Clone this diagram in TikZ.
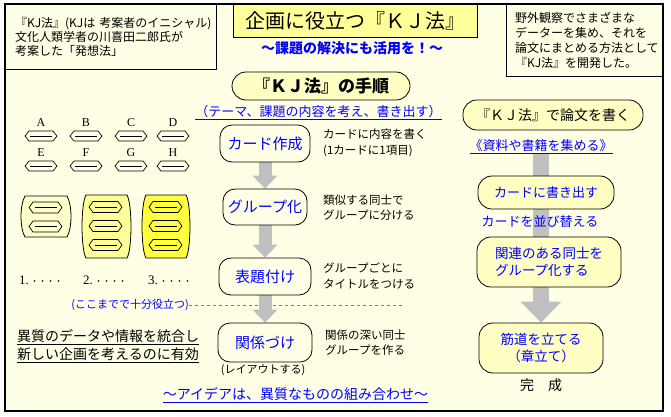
\documentclass[tikz,border=0pt]{standalone}
\usepackage{fontspec}
\setmainfont{Noto Sans CJK JP}
\newfontfamily\cardfont{Liberation Serif}
\usepackage{xcolor}
\usetikzlibrary{arrows.meta}
\definecolor{kjbg}{HTML}{FFFFE6}
\definecolor{kjpill}{HTML}{FFFFC4}
\definecolor{kjtitle}{HTML}{FFFF99}
\definecolor{grpA}{HTML}{FFFFCC}
\definecolor{grpB}{HTML}{FFFF99}
\definecolor{grpC}{HTML}{FFFF40}
\definecolor{kjblue}{HTML}{0000FF}
\definecolor{kjgray}{HTML}{C0C0C0}
\pgfdeclarelayer{frame}
\pgfdeclarelayer{shaft}
\pgfsetlayers{frame,shaft,main}

\begin{document}
\begin{tikzpicture}[x=1pt, y=-1pt,
    infobox/.style={draw, line width=0.8pt, fill=kjbg, align=left, inner ysep=0pt},
    stepbox/.style={draw, line width=0.8pt, rounded corners=12pt, fill=kjbg, text=kjblue,
        font=\fontsize{15}{18}\selectfont, minimum height=37pt, inner sep=0pt},
    pillbox/.style={draw, line width=0.8pt, rounded corners=14pt, fill=kjpill, inner sep=0pt},
    notetext/.style={align=left, anchor=west, inner sep=0pt, font=\fontsize{11.5}{15.5}\selectfont},
    linktext/.style={text=kjblue, inner sep=0pt},
    cardlabel/.style={inner sep=0pt, font=\cardfont\fontsize{12}{14}\selectfont},
    flowarrow/.style={draw=kjgray, line width=13pt, -{Triangle[length=13pt,width=25pt,line width=0pt]}},
    bigarrow/.style={draw=kjgray, line width=16pt, -{Triangle[length=21pt,width=41pt,line width=0pt]}}]

\useasboundingbox (0,0) rectangle (671,416);

% =====================
% Background
% =====================
\begin{pgfonlayer}{frame}
\fill[white] (0,0) rectangle (671,416);
\fill[kjbg] (5,4) rectangle (663,411);
\end{pgfonlayer}

% =====================
% Header boxes
% =====================
\node[infobox, text width=191pt, inner xsep=10pt, minimum height=65pt,
      font=\fontsize{12}{14}\selectfont] (origin) at (110.5,36.5)
    {『KJ法』(KJは~考案者のイニシャル)\\文化人類学者の川喜田二郎氏が\\考案した「発想法」};

\node[infobox, text width=139pt, inner xsep=9pt, minimum height=72pt,
      font=\fontsize{12}{15}\selectfont] (fieldwork) at (584.5,40)
    {野外観察でさまざまな\\データーを集め、それを\\論文にまとめる方法として\\『KJ法』を開発した。};

\node[draw, line width=0.8pt, fill=kjtitle, minimum width=244pt, minimum height=33pt,
      font=\fontsize{20}{24}\selectfont] (title) at (355,20.5) {企画に役立つ『ＫＪ法』};

\node[linktext, font=\bfseries\fontsize{14}{16}\selectfont] (subtitle) at (352,48)
    {～課題の解決にも活用を！～};

% =====================
% Procedure (left)
% =====================
\node[pillbox, minimum width=178pt, minimum height=28pt,
      font=\bfseries\fontsize{17}{20}\selectfont] (procedure) at (321,86) {『ＫＪ法』の手順};

\node[linktext, font=\fontsize{13}{15}\selectfont] (theme) at (318.5,113)
    {\underline{（テーマ、課題の内容を考え、書き出す）}};

\node[stepbox, minimum width=90pt] (cards) at (265,143.5) {カード作成};
\node[stepbox, minimum width=84pt, minimum height=36pt] (grouping) at (265,207) {グループ化};
\node[stepbox, minimum width=92pt] (titling) at (265,276.5) {表題付け};
\node[stepbox, minimum width=94pt, minimum height=39pt] (relating) at (265,342.5) {関係づけ};

\node[notetext] (note1) at (323,143) {カードに内容を書く\\(1カードに1項目)};
\node[notetext] (note2) at (323,207.5) {類似する同士で\\グループに分ける};
\node[notetext] (note3) at (323,276) {グループごとに\\タイトルをつける};
\node[notetext] (note4) at (325,342.5) {関係の深い同士\\グループを作る};

\node[inner sep=0pt, font=\fontsize{11}{13}\selectfont] (layout) at (263,370) {(レイアウトする)};

\node[linktext, font=\fontsize{11}{13}\selectfont] (enough) at (130,305) {(ここまでで十分役立つ)};
\coordinate (enoughend) at (402,305);

\node[notetext, font=\fontsize{14}{18}\selectfont] (integrate) at (17,346)
    {\underline{異質のデータや情報を統合し}\\\underline{新しい企画を考えるのに有効}};

\node[linktext, font=\fontsize{14}{16}\selectfont] (idea) at (295.5,395)
    {\underline{～アイデアは、異質なものの組み合わせ～}};

% =====================
% Cards and groups
% =====================
\foreach \lbl/\cx/\cy in {A/41/136, B/86/136, C/131/136, D/173/136,
                          E/41/166, F/86/166, G/131/166, H/173/166} {
    \node[cardlabel] (card-\lbl) at (\cx,\cy-13) {\lbl};
    \draw[line width=0.7pt] (\cx-16,\cy) -- (\cx-12,\cy-5) -- (\cx+12,\cy-5) -- (\cx+16,\cy)
        -- (\cx+12,\cy+5) -- (\cx-12,\cy+5) -- cycle;
    \draw[line width=0.7pt] (\cx-11,\cy) -- (\cx+11,\cy);
}

\foreach \gl/\gr/\gt/\gb/\gc in {21/71/196/237/grpA, 82/131/195/258/grpB, 142/190/195/258/grpC} {
    \draw[line width=0.8pt, fill=\gc] (\gl+4,\gt) -- (\gr-4,\gt)
        .. controls (\gr+1.3,\gt+9) and (\gr+1.3,\gb-9) .. (\gr-4,\gb)
        -- (\gl+4,\gb)
        .. controls (\gl-1.3,\gb-9) and (\gl-1.3,\gt+9) .. (\gl+4,\gt) -- cycle;
}

\foreach \cx/\cy in {45.5/207.5, 45.5/226.5, 105.5/207, 105.5/226, 105.5/245,
                     165.5/207, 165.5/226, 165.5/245} {
    \draw[line width=0.7pt] (\cx-16.5,\cy) -- (\cx-12.5,\cy-5.5) -- (\cx+12.5,\cy-5.5) -- (\cx+16.5,\cy)
        -- (\cx+12.5,\cy+5.5) -- (\cx-12.5,\cy+5.5) -- cycle;
    \draw[line width=0.7pt] (\cx-11,\cy) -- (\cx+11,\cy);
}

\foreach \n/\gx in {1/19, 2/83, 3/148} {
    \node[anchor=west, inner sep=0pt] (rank-\n) at (\gx,280)
        {{\cardfont\fontsize{13}{15}\selectfont \n.}\,{\fontsize{8}{10}\selectfont ・・・・}};
}

% =====================
% Writing a paper (right)
% =====================
\node[pillbox, minimum width=180pt, minimum height=30pt,
      font=\fontsize{14}{16}\selectfont] (paper) at (553,115) {『ＫＪ法』で論文を書く};

\node[linktext, font=\fontsize{13}{15}\selectfont] (sources) at (541,147)
    {\underline{《資料や書籍を集める》}};

\node[pillbox, text=kjblue, minimum width=136pt, minimum height=33pt,
      font=\fontsize{13}{15}\selectfont] (writeout) at (546,192.5) {カードに書き出す};

\node[linktext, font=\fontsize{13}{15}\selectfont] (sorting) at (540,222) {カードを並び替える};

\node[pillbox, text=kjblue, align=left, minimum width=144pt, minimum height=50pt,
      font=\fontsize{13.5}{17}\selectfont] (relate) at (549,262) {関連のある同士を\\グループ化する};

\node[pillbox, text=kjblue, align=center, minimum width=124pt, minimum height=50pt,
      font=\fontsize{13.5}{17}\selectfont] (plot) at (541,348) {筋道を立てる\\（章立て）};

\node[inner sep=0pt, font=\fontsize{14}{16}\selectfont] (done) at (541,385) {完　成};

% =====================
% Arrows and divider
% =====================
\begin{pgfonlayer}{frame}
\draw[black!50, dashed, line width=0.6pt] (enough) -- (enoughend);
\end{pgfonlayer}

\begin{pgfonlayer}{shaft}
\draw[flowarrow] (cards) -- (grouping);
\draw[flowarrow] (grouping) -- (titling);
\draw[flowarrow] (titling) -- (relating);
\draw[bigarrow] (sources.south) -- (plot.north);
\end{pgfonlayer}

% outer frame
\draw[line width=1.6pt] (5,4) rectangle (663,411);

\end{tikzpicture}
\end{document}
